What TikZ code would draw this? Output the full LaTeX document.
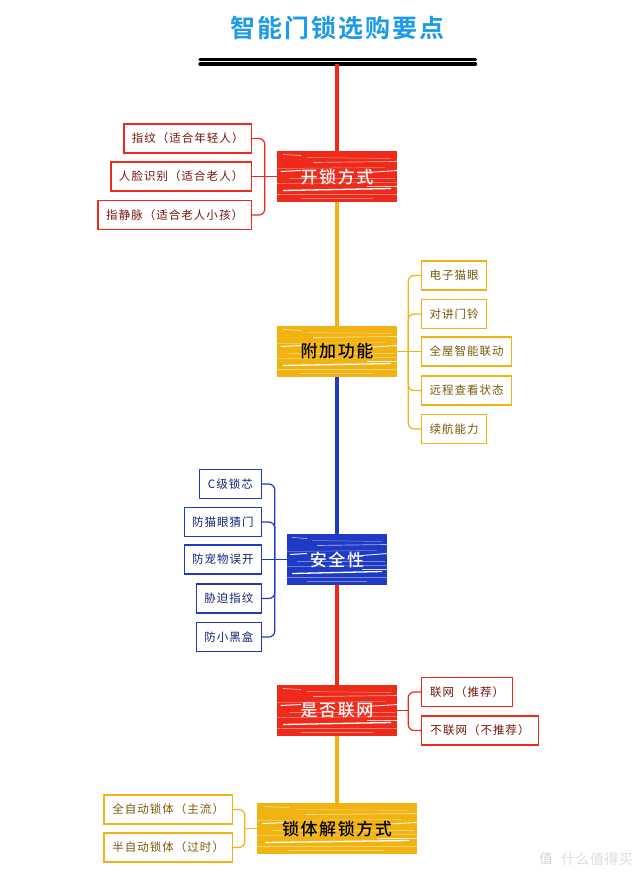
\documentclass[tikz,border=0pt]{standalone}
\usepackage{fontspec}
\usepackage{xcolor}
\usetikzlibrary{positioning,calc}
\newfontfamily\titlefont[LetterSpace=8]{Noto Sans CJK SC Bold}
\newfontfamily\mainfont[LetterSpace=9]{Noto Sans CJK SC Medium}
\newfontfamily\leaffont[LetterSpace=9]{Noto Sans CJK SC}
\newfontfamily\markfont[LetterSpace=3]{Noto Sans CJK SC}
\definecolor{lockred}{HTML}{EE2A1B}
\definecolor{lockyellow}{HTML}{F0B312}
\definecolor{lockblue}{HTML}{1F3BC4}
\definecolor{titleblue}{HTML}{1E9BE6}
\tikzset{
  mainbox/.style={rectangle, fill=#1, minimum height=51pt, inner sep=0pt, font=\mainfont\fontsize{17}{19}\selectfont,
    path picture={
      \foreach \sy/\sz/\xa/\xb/\sw/\so in {-22/-21/0.05/0.2/0.6/0.7, -19/-18/0.25/0.95/0.5/0.45, -14/-15/0.3/1/0.7/0.6, -8/-9/0/0.9/0.5/0.4, -5/-6/0.03/0.2/1/1, -4/-6/0.75/1/0.9/0.9, 2/2/0.1/0.98/0.5/0.4, 7/6/0/1/0.5/0.5, 10/10/0.75/1/0.8/0.8, 14/12/0.05/0.95/1.3/1, 18/18/0/1/0.5/0.4, 22/22/0.2/0.8/0.4/0.4}
        \draw[white, opacity=\so, line width=\sw pt] ($(path picture bounding box.west)!\xa!(path picture bounding box.east)+(0,\sy)$) -- ($(path picture bounding box.west)!\xb!(path picture bounding box.east)+(0,\sz)$);
    }},
  leafbox/.style={rectangle, draw=#1, line width=1.2pt, fill=white, minimum height=29pt, inner sep=0pt, font=\leaffont\fontsize{11.5}{14}\selectfont},
  trunk/.style={draw=#1, line width=3.5pt},
  branch/.style={draw=#1, line width=1.2pt, rounded corners=6pt},
  barline/.style={draw=black, line width=3.4pt, line cap=round}
}
\begin{document}
\begin{tikzpicture}[x=1pt,y=-1pt]
  \useasboundingbox (0,0) rectangle (640,875);
  \node (title) at (337,28) [font=\titlefont\fontsize{25}{28}\selectfont, text=titleblue] {智能门锁选购要点};
  % top bar
  \coordinate (barl) at (200,59.5);
  \coordinate (barr) at (475.5,59.5);
  \coordinate (barlb) at (200,64);
  \coordinate (barrb) at (475.5,64);
  \coordinate (barmid) at (337,64);
  \draw[barline] (barl) -- (barr);
  \draw[barline] (barlb) -- (barrb);
  % main nodes
  \node (unlock) at (337,176.5) [mainbox=lockred, minimum width=120pt, text=white] {开锁方式};
  \node (extra) at (337,351.5) [mainbox=lockyellow, minimum width=120pt, text=black] {附加功能};
  \node (safe) at (337,559.5) [mainbox=lockblue, minimum width=100pt, text=white] {安全性};
  \node (online) at (337,710.5) [mainbox=lockred, minimum width=120pt, text=white] {是否联网};
  \node (body) at (337,828.5) [mainbox=lockyellow, minimum width=160pt, text=black] {锁体解锁方式};
  \draw[trunk=lockred] (barmid) -- (unlock);
  \draw[trunk=lockyellow] (unlock) -- (extra);
  \draw[trunk=lockblue] (extra) -- (safe);
  \draw[trunk=lockred] (safe) -- (online);
  \draw[trunk=lockyellow] (online) -- (body);
  % unlock leaves
  \node (finger) at (252,138.5) [leafbox=lockred, anchor=east, minimum width=127.5pt, text=lockred!50!black] {指纹（适合年轻人）};
  \node (face) at (252,176.5) [leafbox=lockred, anchor=east, minimum width=140.5pt, text=lockred!50!black] {人脸识别（适合老人）};
  \node (vein) at (252,215) [leafbox=lockred, anchor=east, minimum width=153.5pt, text=lockred!50!black] {指静脉（适合老人小孩）};
  \draw[branch=lockred] (finger.east) -| ([xshift=-12pt]unlock.west) |- (vein.east);
  \draw[branch=lockred] (face.east) -- (unlock.west);
  % extra leaves
  \node (peephole) at (421,275.5) [leafbox=lockyellow, anchor=west, minimum width=65pt, text=lockyellow!50!black] {电子猫眼};
  \node (doorbell) at (421,314) [leafbox=lockyellow, anchor=west, minimum width=65pt, text=lockyellow!50!black] {对讲门铃};
  \node (house) at (421,351.5) [leafbox=lockyellow, anchor=west, minimum width=90pt, text=lockyellow!50!black] {全屋智能联动};
  \node (remote) at (421,390.5) [leafbox=lockyellow, anchor=west, minimum width=90pt, text=lockyellow!50!black] {远程查看状态};
  \node (battery) at (421,429) [leafbox=lockyellow, anchor=west, minimum width=65pt, text=lockyellow!50!black] {续航能力};
  \draw[branch=lockyellow] (peephole.west) -| ([xshift=11pt]extra.east) |- (battery.west);
  \foreach \leaf in {doorbell,remote}
    \draw[branch=lockyellow] (\leaf.west) -| ([xshift=11pt]extra.east);
  \draw[branch=lockyellow] (house.west) -- (extra.east);
  % safe leaves
  \node (core) at (262,484) [leafbox=lockblue, anchor=east, minimum width=62pt, text=lockblue!60!black] {C级锁芯};
  \node (cat) at (262,522) [leafbox=lockblue, anchor=east, minimum width=77pt, text=lockblue!60!black] {防猫眼猜门};
  \node (pet) at (262,559.5) [leafbox=lockblue, anchor=east, minimum width=77pt, text=lockblue!60!black] {防宠物误开};
  \node (force) at (262,598.5) [leafbox=lockblue, anchor=east, minimum width=65pt, text=lockblue!60!black] {胁迫指纹};
  \node (blackbox) at (262,637) [leafbox=lockblue, anchor=east, minimum width=65pt, text=lockblue!60!black] {防小黑盒};
  \draw[branch=lockblue] (core.east) -| ([xshift=-12pt]safe.west) |- (blackbox.east);
  \foreach \leaf in {cat,force}
    \draw[branch=lockblue] (\leaf.east) -| ([xshift=-12pt]safe.west);
  \draw[branch=lockblue] (pet.east) -- (safe.west);
  % online leaves
  \node (yes) at (421,692) [leafbox=lockred, anchor=west, minimum width=91pt, text=lockred!50!black] {联网（推荐）};
  \node (no) at (421,730.5) [leafbox=lockred, anchor=west, minimum width=117pt, text=lockred!50!black] {不联网（不推荐）};
  \draw[branch=lockred] (yes.west) -| ([xshift=11pt]online.east) |- (no.west);
  \draw[branch=lockred] (online.east) -- ([xshift=11pt]online.east);
  % body leaves
  \node (full) at (233,809.5) [leafbox=lockyellow, anchor=east, minimum width=128.5pt, text=lockyellow!50!black] {全自动锁体（主流）};
  \node (half) at (233,847.5) [leafbox=lockyellow, anchor=east, minimum width=128.5pt, text=lockyellow!50!black] {半自动锁体（过时）};
  \draw[branch=lockyellow] (full.east) -| ([xshift=-12pt]body.west) |- (half.east);
  \draw[branch=lockyellow] ([xshift=-12pt]body.west) -- (body.west);
  % watermark
  \node (mark) at (597,859) [font=\markfont\fontsize{14}{16}\selectfont, text=black!14] {什么值得买};
  \node (logo) at (546,859) [font=\markfont\fontsize{13}{15}\selectfont, text=black!18] {值};
\end{tikzpicture}
\end{document}
